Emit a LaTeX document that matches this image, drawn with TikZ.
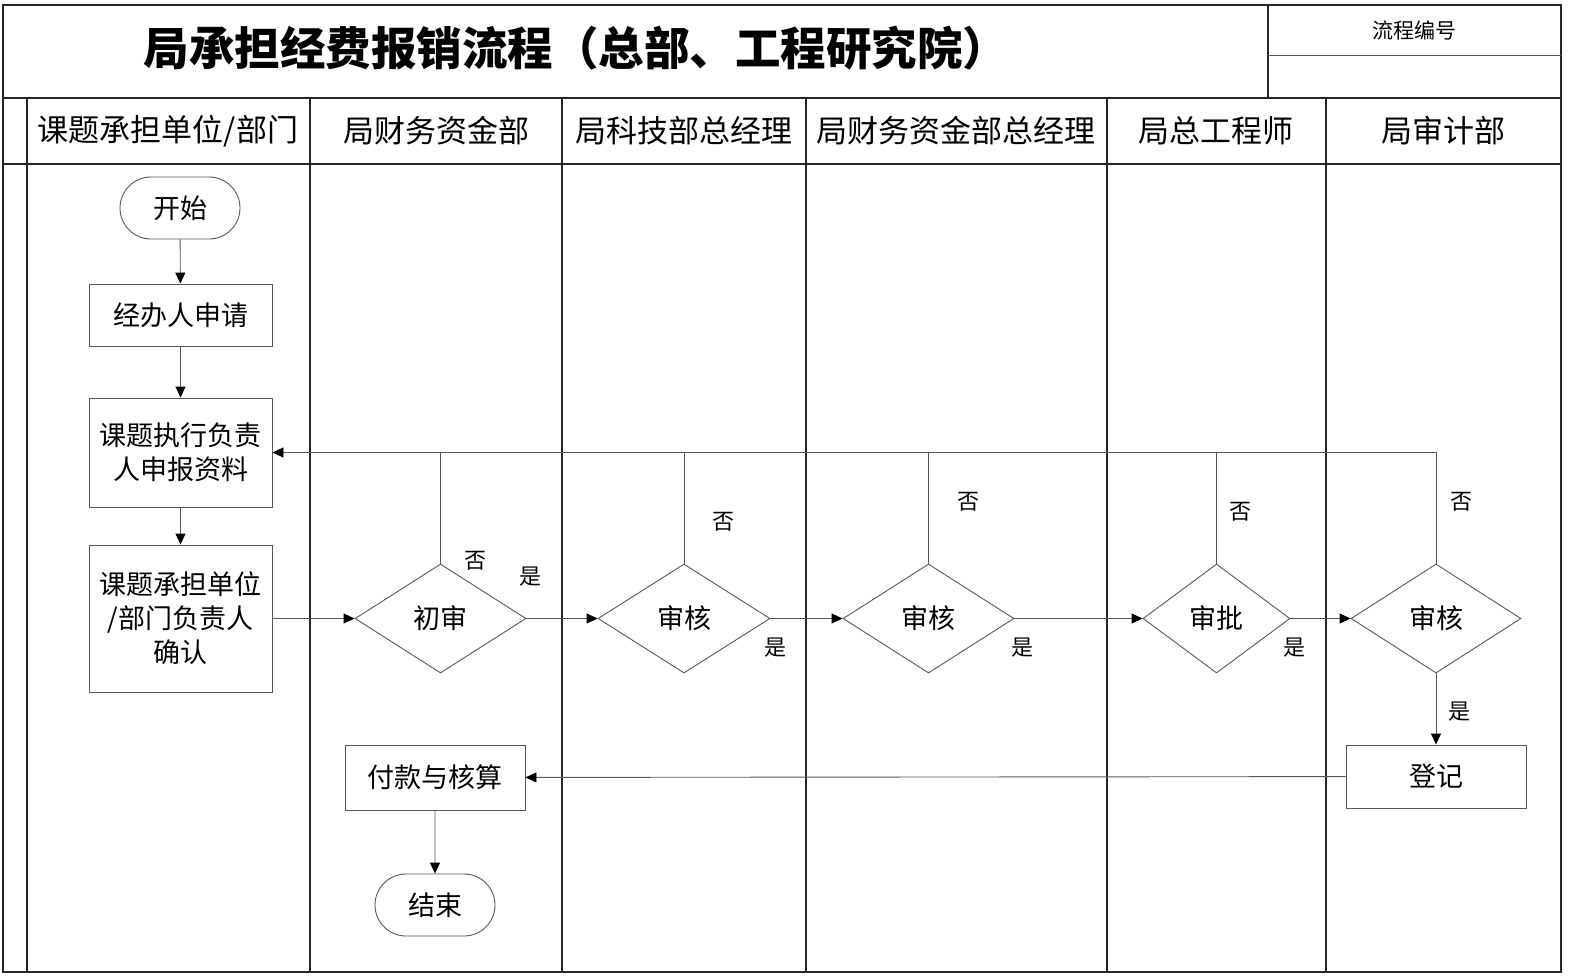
\documentclass[tikz,border=0pt]{standalone}
\usepackage{fontspec}
\setmainfont{Noto Sans CJK SC}
\usetikzlibrary{shapes.geometric,shapes.misc,arrows.meta}
\begin{document}
\begin{tikzpicture}[x=1pt,y=-1pt,
  frameline/.style={line width=1.6pt,draw=black!85},
  laneline/.style={line width=1.3pt,draw=black!85},
  thinline/.style={line width=0.9pt,draw=black!65},
  boxnode/.style={draw=black!65,line width=0.9pt,rectangle,inner sep=0pt,align=center,font=\fontsize{27}{34}\selectfont},
  pillnode/.style={draw=black!65,line width=0.9pt,rounded rectangle,inner sep=0pt,minimum width=120pt,minimum height=62pt,font=\fontsize{27}{34}\selectfont},
  decnode/.style={draw=black!65,line width=0.9pt,diamond,inner sep=0pt,minimum height=109pt,font=\fontsize{27}{34}\selectfont},
  lbl/.style={font=\fontsize{22}{24}\selectfont,inner sep=0pt},
  hdr/.style={font=\fontsize{31}{36}\selectfont,inner sep=0pt},
  flow/.style={thinline,-{Triangle[length=11pt,width=10pt,color=black,fill=black]}}
]
\useasboundingbox (0,0) rectangle (1589,975);
\fill[white] (0,0) rectangle (1589,975);
% frame
\draw[frameline] (3,5) rectangle (1561,972);
\draw[frameline] (3,98) -- (1561,98);
\draw[laneline] (3,164) -- (1561,164);
\draw[laneline] (1268,5) -- (1268,98);
\draw[thinline] (1268,55) -- (1561,55);
\draw[laneline] (27,98) -- (27,972);
\foreach \x in {310,562,806,1107,1326} \draw[laneline] (\x,98) -- (\x,972);
% title
\node[font=\fontsize{45.5}{48}\selectfont\bfseries,inner sep=0pt] (title) at (576,48) {局承担经费报销流程（总部、工程研究院）};
\node[font=\fontsize{21}{24}\selectfont,inner sep=0pt] (code) at (1414,30) {流程编号};
% headers
\node[hdr] (h1) at (168,131) {课题承担单位/部门};
\node[hdr] (h2) at (436,131) {局财务资金部};
\node[hdr] (h3) at (684,131) {局科技部总经理};
\node[hdr] (h4) at (956,131) {局财务资金部总经理};
\node[hdr] (h5) at (1216,131) {局总工程师};
\node[hdr] (h6) at (1443,131) {局审计部};
% nodes
\node[pillnode] (start) at (180,208) {开始};
\node[boxnode,minimum width=183pt,minimum height=62pt] (apply) at (180.5,315) {经办人申请};
\node[boxnode,minimum width=183pt,minimum height=109pt] (submit) at (180.5,452.5) {课题执行负责\\人申报资料};
\node[boxnode,minimum width=183pt,minimum height=147pt] (confirm) at (180.5,618.5) {课题承担单位\\/部门负责人\\确认};
\node[decnode,minimum width=171pt] (d1) at (440.5,618.5) {初审};
\node[decnode,minimum width=172pt] (d2) at (684,618.5) {审核};
\node[decnode,minimum width=171pt] (d3) at (928.5,618.5) {审核};
\node[decnode,minimum width=147pt] (d4) at (1216.5,618.5) {审批};
\node[decnode,minimum width=170pt] (d5) at (1436,618.5) {审核};
\node[boxnode,minimum width=180pt,minimum height=63pt] (reg) at (1436,776.5) {登记};
\node[boxnode,minimum width=180pt,minimum height=65pt] (pay) at (435,777.5) {付款与核算};
\node[pillnode] (end) at (435,905) {结束};
% flows
\draw[flow] (start) -- (apply);
\draw[flow] (apply) -- (submit);
\draw[flow] (submit) -- (confirm);
\draw[flow] (confirm) -- (d1);
\draw[flow] (d1) -- (d2);
\draw[flow] (d2) -- (d3);
\draw[flow] (d3) -- (d4);
\draw[flow] (d4) -- (d5);
\draw[flow] (d5) -- (reg);
\draw[flow] (reg) -- (pay);
\draw[flow] (pay) -- (end);
% return lines
\draw[flow] (d5.north) |- (submit.east);
\foreach \d in {d1,d2,d3,d4} \draw[thinline] (\d.north) -- (\d.north |- submit.east);
% labels
\node[lbl] (n1) at (475,561) {否};
\node[lbl] (y1) at (530,577) {是};
\node[lbl] (n2) at (723,522) {否};
\node[lbl] (y2) at (775,648) {是};
\node[lbl] (n3) at (968,502) {否};
\node[lbl] (y3) at (1022,648) {是};
\node[lbl] (n4) at (1240,512) {否};
\node[lbl] (y4) at (1294,648) {是};
\node[lbl] (n5) at (1461,502) {否};
\node[lbl] (y5) at (1459,712) {是};
\end{tikzpicture}
\end{document}
